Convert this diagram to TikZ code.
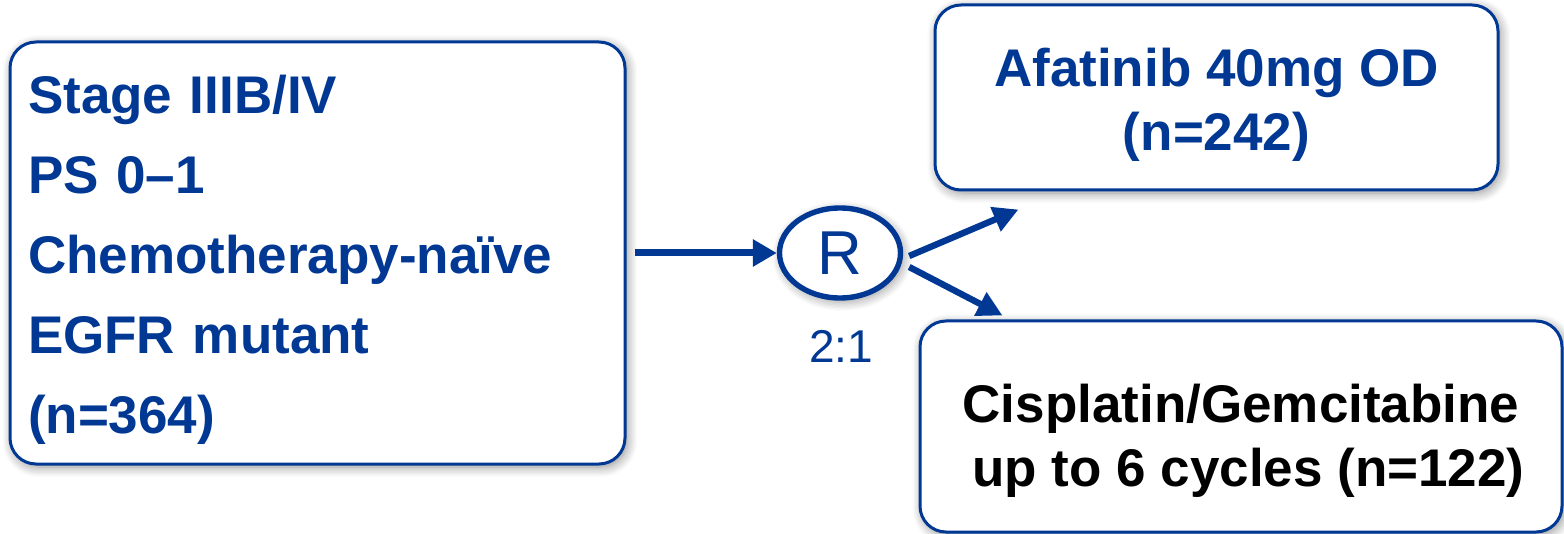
\documentclass[tikz,border=0pt]{standalone}
\usepackage{fontspec}
\setmainfont{Liberation Sans}
\usetikzlibrary{arrows.meta,shapes.geometric,shadows.blur}
\definecolor{navy}{HTML}{003893}

\begin{document}
\begin{tikzpicture}[x=0.5pt,y=-0.5pt,
  soft/.style={blur shadow={shadow xshift=1.2pt,shadow yshift=-1.5pt,
      shadow blur radius=5pt,shadow blur steps=8,shadow opacity=45}},
  box/.style={draw=navy,line width=1.5pt,rounded corners=13pt,fill=white,
      soft,inner sep=0pt},
  arr/.style={draw=navy,line width=3.5pt,-{Triangle[length=12pt,width=13pt]}},
  darr/.style={draw=navy,line width=3.2pt,-{Triangle[length=12.5pt,width=12.5pt]}}]
\useasboundingbox (0,0) rectangle (1564,534);

% eligibility box
\node[box,minimum width=307.5pt,minimum height=211pt,text width=289.5pt,
      align=left,text=navy,font=\fontsize{26.5}{40}\selectfont\bfseries]
  (elig) at (317.5,253)
  {\rule{0pt}{26pt}Stage IIIB/IV\\PS 0–1\\Chemotherapy-naïve\\EGFR mutant\\(n=364)};

% randomisation
\node[ellipse,draw=navy,line width=2.7pt,fill=white,soft,inner sep=0pt,
      minimum width=60.5pt,minimum height=45pt,text=navy,
      font=\fontsize{31}{31}\selectfont] (R) at (840,253) {R};
\node[anchor=base,text=navy,font=\fontsize{23}{24}\selectfont] (ratio)
  at (841,363) {2:1};

% treatment arms
\node[box,minimum width=281.5pt,minimum height=92.5pt,align=center,text=navy,
      font=\fontsize{26.5}{32}\selectfont\bfseries]
  (afat) at (1216.5,97.5) {\rule{0pt}{26.5pt}Afatinib 40mg OD\\(n=242)};
\node[box,minimum width=321pt,minimum height=105.5pt,align=center,text=black,
      font=\fontsize{26.5}{32}\selectfont\bfseries]
  (cisg) at (1241,426.5) {\rule{0pt}{33pt}Cisplatin/Gemcitabine\\\ up to 6 cycles (n=122)};

% connectors
\draw[arr] ([xshift=4pt]elig.east) -- (elig.east -| R.west);
\draw[darr] ([xshift=3pt,yshift=-1.5pt]R.east) -- ([shift={(85,18)}]afat.south west);
\draw[darr] ([xshift=3pt,yshift=-7pt]R.east) -- ([shift={(84,-4)}]cisg.north west);
\end{tikzpicture}
\end{document}
